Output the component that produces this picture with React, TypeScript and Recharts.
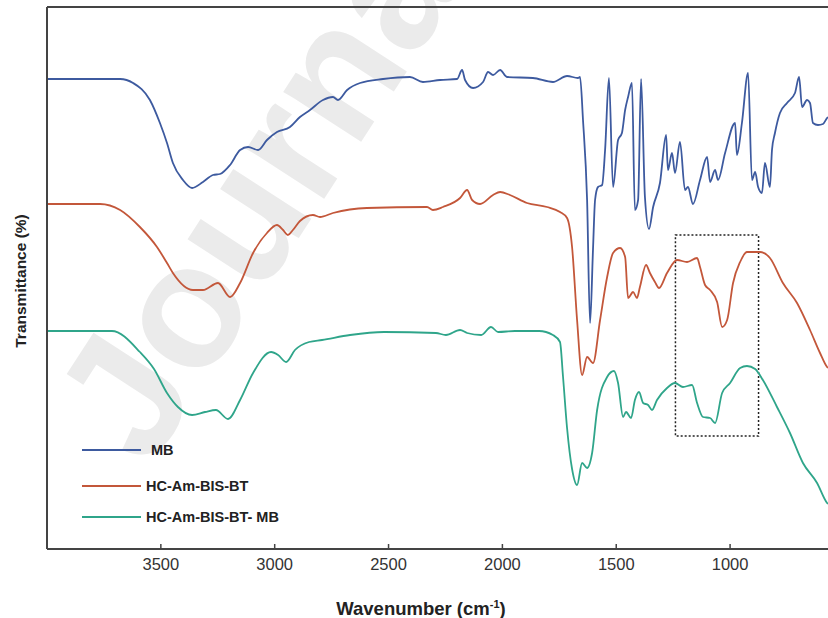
import { LineChart, Line, XAxis, YAxis, ReferenceArea, ReferenceLine } from "recharts";

// wavenumber (cm-1) / transmittance (offset, a.u.) pairs
const mbWave = [4000, 3767, 3679, 3622, 3548, 3504, 3473, 3447, 3403, 3363, 3315, 3271, 3240, 3196, 3152, 3117, 3073, 3034, 2990, 2933, 2889, 2845, 2788, 2744, 2722, 2682, 2625, 2524, 2406, 2349, 2274, 2199, 2177, 2164, 2129, 2085, 2063, 2041, 2010, 1980, 1866, 1778, 1716, 1668, 1659, 1646, 1628, 1615, 1602, 1593, 1580, 1562, 1549, 1532, 1514, 1492, 1475, 1461, 1448, 1431, 1418, 1404, 1391, 1374, 1356, 1338, 1308, 1281, 1273, 1255, 1242, 1220, 1198, 1185, 1163, 1132, 1101, 1088, 1066, 1053, 1022, 978, 970, 948, 921, 904, 890, 877, 860, 847, 825, 816, 803, 781, 750, 715, 697, 684, 662, 649, 636, 614, 592, 574, 570];
const mbT = [470, 470, 470, 466, 449, 426, 406, 386, 369, 361, 367, 374, 375, 384, 399, 402, 399, 409, 417, 422, 432, 439, 449, 452, 449, 459, 466, 470, 472, 467, 469, 470, 479, 469, 461, 467, 477, 474, 479, 472, 471, 467, 473, 471, 472, 429, 349, 226, 300, 349, 362, 364, 399, 471, 362, 409, 416, 439, 452, 466, 339, 349, 470, 352, 320, 342, 366, 414, 379, 396, 376, 407, 359, 362, 345, 369, 392, 367, 379, 369, 396, 426, 394, 426, 476, 369, 377, 362, 356, 386, 362, 399, 416, 436, 446, 456, 472, 442, 449, 446, 426, 424, 425, 431, 432];

const hcWave = [4000, 3767, 3679, 3592, 3517, 3473, 3447, 3359, 3315, 3249, 3196, 3152, 3095, 3034, 2990, 2963, 2942, 2920, 2889, 2832, 2801, 2744, 2595, 2331, 2305, 2261, 2186, 2155, 2133, 2098, 2041, 2010, 1967, 1892, 1804, 1747, 1716, 1694, 1672, 1650, 1628, 1602, 1571, 1540, 1514, 1483, 1461, 1448, 1426, 1409, 1396, 1369, 1352, 1330, 1312, 1277, 1233, 1189, 1145, 1132, 1110, 1088, 1057, 1035, 1013, 987, 956, 926, 900, 869, 825, 768, 706, 649, 605, 574, 570];
const hcT = [345, 345, 339, 322, 302, 286, 276, 259, 259, 266, 252, 266, 296, 316, 324, 319, 314, 319, 328, 334, 332, 336, 341, 342, 339, 342, 351, 359, 349, 345, 354, 357, 354, 346, 342, 337, 331, 302, 229, 174, 192, 186, 229, 272, 296, 301, 292, 251, 257, 251, 262, 284, 276, 267, 261, 276, 289, 287, 291, 282, 264, 259, 247, 222, 229, 266, 287, 297, 297, 297, 291, 266, 246, 219, 196, 182, 181];

const hcMbWave = [4000, 3715, 3592, 3530, 3473, 3425, 3363, 3306, 3258, 3205, 3152, 3095, 3016, 2985, 2950, 2911, 2849, 2792, 2669, 2520, 2292, 2248, 2186, 2155, 2093, 2050, 2019, 1945, 1839, 1778, 1747, 1734, 1716, 1694, 1672, 1650, 1628, 1606, 1584, 1540, 1510, 1492, 1470, 1457, 1435, 1418, 1400, 1382, 1360, 1343, 1321, 1277, 1242, 1207, 1167, 1145, 1119, 1088, 1066, 1035, 1000, 956, 926, 890, 856, 794, 737, 680, 618, 574, 570];
const hcMbT = [218, 218, 197, 180, 156, 142, 134, 137, 139, 130, 149, 176, 197, 194, 187, 199, 207, 209, 214, 217, 216, 214, 219, 216, 214, 222, 217, 218, 218, 214, 207, 173, 121, 80, 64, 86, 81, 96, 139, 172, 178, 166, 132, 137, 131, 149, 157, 146, 144, 139, 149, 161, 166, 162, 164, 146, 132, 131, 126, 156, 166, 181, 183, 180, 169, 142, 116, 86, 66, 46, 45];

const xTicks = [3500, 3000, 2500, 2000, 1500, 1000];
const boxWave = [1240, 875];
const boxT = [113, 314];

const toRows = (wave: number[], t: number[]) => wave.map((w, i) => ({ w, t: t[i] }));

const series = [
  { name: "MB", color: "#3d5a9f", data: toRows(mbWave, mbT), textX: 151 },
  { name: "HC-Am-BIS-BT", color: "#c3573a", data: toRows(hcWave, hcT), textX: 146 },
  { name: "HC-Am-BIS-BT- MB", color: "#2fa58a", data: toRows(hcMbWave, hcMbT), textX: 146 },
];
const legendY = [450, 486, 517];

const FONT = "'Liberation Sans', Arial, sans-serif";

const Tick = ({ x, y, payload }: any) => (
  <g>
    <line x1={x} y1={y} x2={x} y2={y - 5} stroke="#444" strokeWidth={1.5} />
    <text x={x} y={y + 21} textAnchor="middle" fontSize={16.5} fill="#333" fontFamily={FONT}>
      {payload.value}
    </text>
  </g>
);

export default function App() {
  return (
    <div style={{ position: "absolute", left: 0, top: 0, width: 828, height: 618, background: "#fff", overflow: "hidden" }}>
      <svg width={828} height={618} style={{ position: "absolute", left: 0, top: 0 }}>
        {/* journal watermark behind the plot */}
        <text
          x={0}
          y={0}
          transform="translate(148 470) rotate(-57)"
          fontSize={175}
          fontWeight="bold"
          fill="#ebebeb"
          fontFamily={FONT}
        >
          Journal
        </text>
      </svg>
      <div style={{ position: "absolute", left: 0, top: 0 }}>
        <LineChart width={828} height={618} margin={{ top: 7, right: 0, bottom: 0, left: 0 }}>
          <XAxis
            dataKey="w"
            type="number"
            domain={[570, 4000]}
            reversed
            allowDataOverflow
            ticks={xTicks}
            height={69}
            tickSize={0}
            tickMargin={0}
            tickLine={false}
            tick={<Tick />}
            axisLine={{ stroke: "#444", strokeWidth: 2 }}
            label={{
              content: () => (
                <text x={421} y={615} textAnchor="middle" fontSize={18.5} fontWeight="bold" fill="#222" fontFamily={FONT}>
                  Wavenumber  (cm
                  <tspan fontSize={11} dy={-7}>-1</tspan>
                  <tspan dy={7}>)</tspan>
                </text>
              ),
            }}
          />
          <YAxis
            type="number"
            domain={[0, 542]}
            width={47}
            tick={false}
            tickLine={false}
            axisLine={{ stroke: "#444", strokeWidth: 2 }}
            label={{
              content: () => (
                <text
                  x={0}
                  y={0}
                  transform="translate(26 281) rotate(-90)"
                  textAnchor="middle"
                  fontSize={15.5}
                  fontWeight="bold"
                  fill="#222"
                  fontFamily={FONT}
                >
                  Transmittance (%)
                </text>
              ),
            }}
          />
          <ReferenceLine y={542} stroke="#444" strokeWidth={2} />
          <ReferenceArea
            x1={boxWave[0]}
            x2={boxWave[1]}
            y1={boxT[0]}
            y2={boxT[1]}
            fill="none"
            fillOpacity={0}
            stroke="#222"
            strokeWidth={1.5}
            strokeDasharray="2 2"
          />
          {series.map((s) => (
            <Line
              key={s.name}
              data={s.data}
              dataKey="t"
              name={s.name}
              type="monotone"
              stroke={s.color}
              strokeWidth={1.8}
              dot={false}
              isAnimationActive={false}
            />
          ))}
        </LineChart>
      </div>
      <svg width={300} height={100} style={{ position: "absolute", left: 0, top: 430 }}>
        {series.map((s, i) => {
          const cy = legendY[i] - 430;
          return (
            <g key={s.name}>
              <line x1={82} x2={141} y1={cy} y2={cy} stroke={s.color} strokeWidth={2} />
              <text x={s.textX} y={cy + 5} fontSize={14.5} fontWeight="bold" fill="#222" fontFamily={FONT}>
                {s.name}
              </text>
            </g>
          );
        })}
      </svg>
    </div>
  );
}
